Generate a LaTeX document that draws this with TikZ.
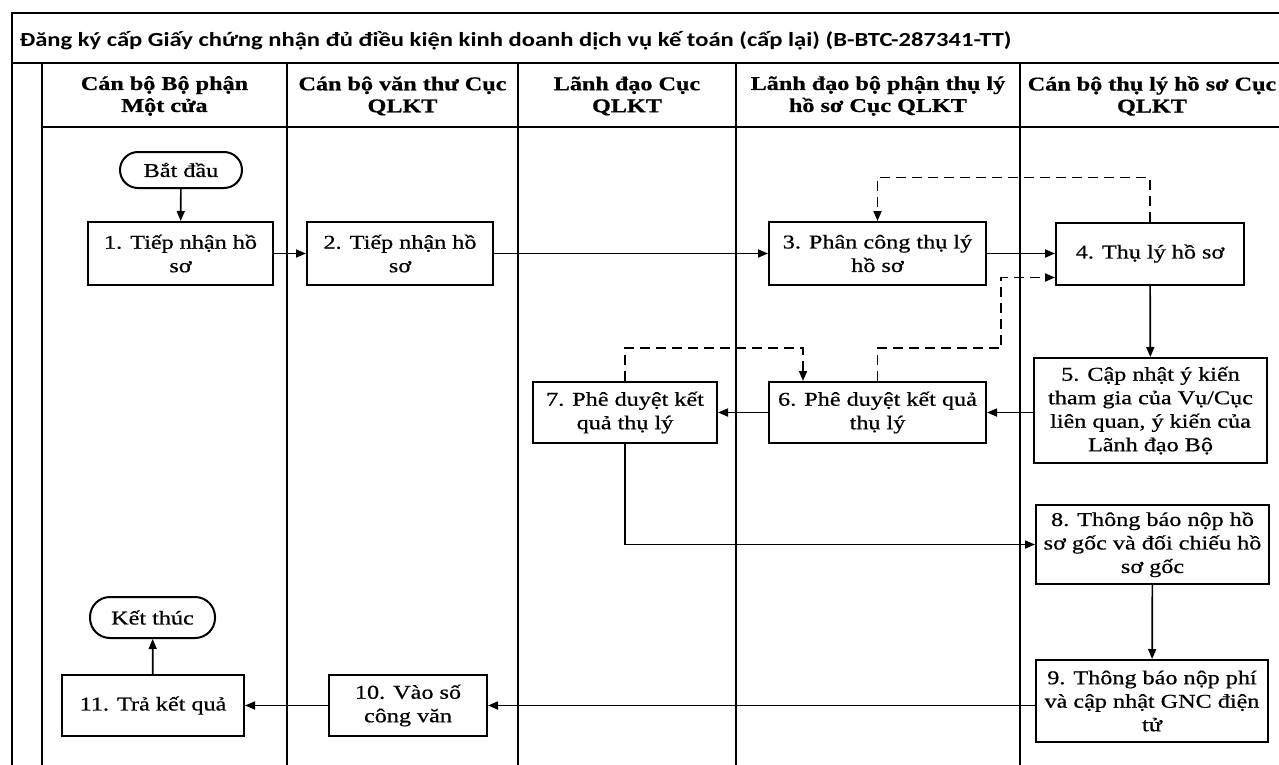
\documentclass[tikz,border=0pt]{standalone}
\usepackage{fontspec}
\setmainfont{Liberation Serif}[FakeStretch=1.24,FakeBold=0.7]
\newfontfamily\titlefont{Carlito}[FakeStretch=1.23]
\usetikzlibrary{arrows.meta}

\begin{document}
\begin{tikzpicture}[x=1pt,y=-1pt, every node/.style={align=center,font=\fontsize{19.5}{23.5}\selectfont},
 box/.style={draw,line width=2pt,inner sep=2pt},
 term/.style={box,rounded corners=18pt},
 hd/.style={font=\bfseries\fontsize{19.5}{22}\selectfont},
 lane/.style={line width=2pt},
 arr/.style={-{Triangle[length=10pt,width=8pt]},line width=1.7pt},
 darr/.style={arr,dash pattern=on 10pt off 6pt}]
\useasboundingbox (0,0) rectangle (1279,765);
% lanes
\draw[lane] (1279,13)--(12,13)--(12,765);
\draw[lane] (12,63)--(1279,63); \draw[lane] (42,127)--(1279,127);
\foreach \x in {42,287,518,736,1020} \draw[lane] (\x,63)--(\x,765);
\node[anchor=west,font=\titlefont\bfseries\fontsize{20}{24}\selectfont] (t) at (16,41) {Đăng ký cấp Giấy chứng nhận đủ điều kiện kinh doanh dịch vụ kế toán (cấp lại) (B-BTC-287341-TT)};
\node[hd] (h1) at (164.5,96) {Cán bộ Bộ phận\\Một cửa};
\node[hd] (h2) at (402.5,96) {Cán bộ văn thư Cục\\QLKT};
\node[hd] (h3) at (627,96) {Lãnh đạo Cục\\QLKT};
\node[hd] (h4) at (878,96) {Lãnh đạo bộ phận thụ lý\\hồ sơ Cục QLKT};
\node[hd] (h5) at (1152,96) {Cán bộ thụ lý hồ sơ Cục\\QLKT};
% steps
\node[term,minimum width=122pt,minimum height=36pt] (s) at (181,170) {Bắt đầu};
\node[box,minimum width=185pt,minimum height=63pt] (n1) at (180.5,253.5) {1. Tiếp nhận hồ\\sơ};
\node[box,minimum width=186pt,minimum height=63pt] (n2) at (400,253.5) {2. Tiếp nhận hồ\\sơ};
\node[box,minimum width=217pt,minimum height=63pt] (n3) at (877.5,253.5) {3. Phân công thụ lý\\hồ sơ};
\node[box,minimum width=188pt,minimum height=62pt] (n4) at (1150,253.5) {4. Thụ lý hồ sơ};
\node[box,minimum width=233pt,minimum height=105pt] (n5) at (1150.5,410.5) {5. Cập nhật ý kiến\\tham gia của Vụ/Cục\\liên quan, ý kiến của\\Lãnh đạo Bộ};
\node[box,minimum width=217pt,minimum height=61pt] (n6) at (877.5,412.5) {6. Phê duyệt kết quả\\thụ lý};
\node[box,minimum width=184pt,minimum height=61pt] (n7) at (625,412.5) {7. Phê duyệt kết\\quả thụ lý};
\node[box,minimum width=233pt,minimum height=79pt] (n8) at (1152.5,544.5) {8. Thông báo nộp hồ\\sơ gốc và đối chiếu hồ\\sơ gốc};
\node[box,minimum width=232pt,minimum height=82pt] (n9) at (1152,701) {9. Thông báo nộp phí\\và cập nhật GNC điện\\tử};
\node[box,minimum width=158pt,minimum height=61pt] (n10) at (408,705.5) {10. Vào số\\công văn};
\node[box,minimum width=182pt,minimum height=61pt] (n11) at (153,705.5) {11. Trả kết quả};
\node[term,rounded corners=20pt,minimum width=125pt,minimum height=41pt] (e) at (152.5,617.5) {Kết thúc};
% flow
\coordinate (k6) at (1001,348); \coordinate (k7) at (803,348);
\draw[arr] (s)--(n1); \draw[arr] (n1)--(n2); \draw[arr] (n2)--(n3); \draw[arr] (n3)--(n4);
\draw[darr] (n4.north)--++(0,-44)-|(n3.north);
\draw[darr] (n6.north)|-(k6)|-([yshift=-24pt]n4.west);
\draw[darr] (n7.north)|-(k7)--(k7|-n6.north);
\draw[arr] (n4)--(n5); \draw[arr] (n5.west|-n6)--(n6.east); \draw[arr] (n6)--(n7);
\draw[arr] (n7.south)|-(n8.west); \draw[arr] (n8)--(n9);
\draw[arr] (n9.west|-n10)--(n10.east); \draw[arr] (n10)--(n11); \draw[arr] (n11)--(e);
\end{tikzpicture}
\end{document}
